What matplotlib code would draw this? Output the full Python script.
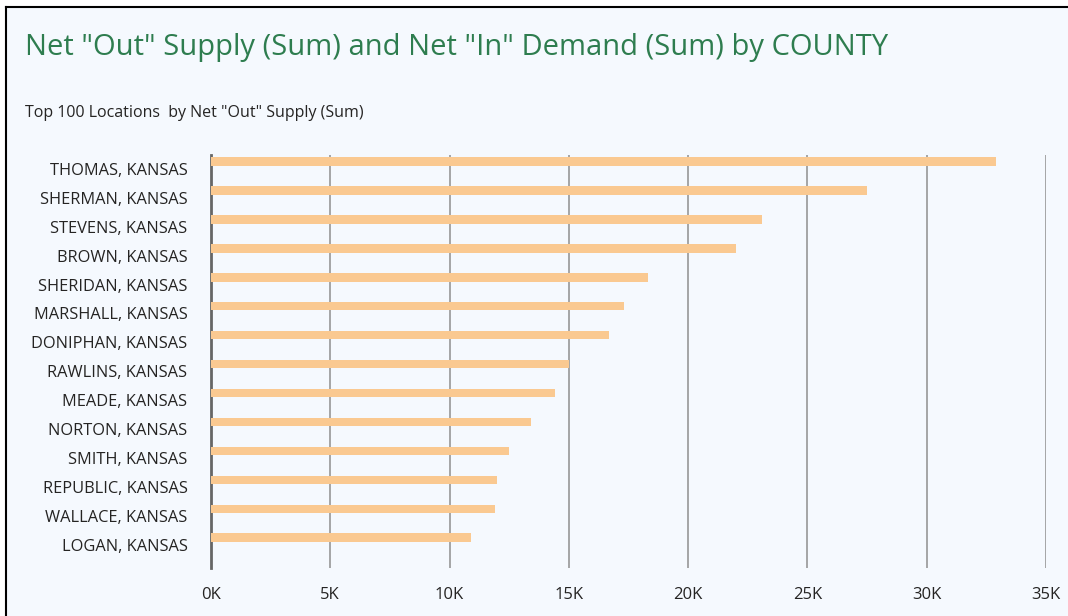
import matplotlib.pyplot as plt
from matplotlib.patches import Rectangle
from matplotlib.ticker import FuncFormatter

counties = ['THOMAS, KANSAS', 'SHERMAN, KANSAS', 'STEVENS, KANSAS', 'BROWN, KANSAS',
            'SHERIDAN, KANSAS', 'MARSHALL, KANSAS', 'DONIPHAN, KANSAS', 'RAWLINS, KANSAS',
            'MEADE, KANSAS', 'NORTON, KANSAS', 'SMITH, KANSAS', 'REPUBLIC, KANSAS',
            'WALLACE, KANSAS', 'LOGAN, KANSAS']
net_out_supply = [32900, 27500, 23100, 22000, 18300, 17300, 16700,
                  15000, 14400, 13400, 12500, 12000, 11900, 10900]
x_ticks = [0, 5000, 10000, 15000, 20000, 25000, 30000, 35000]

plt.rcParams['font.family'] = ['Open Sans', 'DejaVu Sans']
bg = '#f5f9fe'

fig = plt.figure(figsize=(10.68, 6.16), dpi=100)
fig.patch.set_facecolor('white')
W, H = 1068, 616
# panel background with black frame on the left and top
fig.add_artist(Rectangle((6 / W, 0), 1.0, 1 - 7 / H, transform=fig.transFigure,
                         facecolor=bg, edgecolor='none', zorder=-2))
fig.add_artist(plt.Line2D([6 / W, 6 / W], [0, 1 - 7 / H], transform=fig.transFigure,
                          color='black', lw=1.5))
fig.add_artist(plt.Line2D([6 / W, 1], [1 - 7 / H, 1 - 7 / H], transform=fig.transFigure,
                          color='black', lw=1.5))

fig.text(25 / W, 1 - 48 / H, 'Net "Out" Supply (Sum) and Net "In" Demand (Sum) by COUNTY',
         color='#2e7d4f', fontsize=21, va='center', ha='left')
fig.text(25 / W, 1 - 113 / H, 'Top 100 Locations  by Net "Out" Supply (Sum)',
         color='#252423', fontsize=11.5, va='center', ha='left')

ax = fig.add_axes([211 / W, 48 / H, (1046 - 211) / W, (568 - 155) / H])
ax.set_facecolor(bg)

pos = list(range(len(counties)))
ax.barh([p - 0.25 for p in pos], net_out_supply, height=0.29, color='#fac991', zorder=3)

ax.set_xlim(0, 35000)
ax.set_ylim(len(counties) - 1 + 0.8, -0.48)
ax.set_yticks(pos)
ax.set_yticklabels(counties, fontsize=11.8, color='#252423')
ax.set_xticks(x_ticks)
ax.xaxis.set_major_formatter(FuncFormatter(lambda v, _: f'{int(v / 1000)}K'))
ax.tick_params(axis='x', length=0, pad=14, labelsize=12, labelcolor='#252423')
ax.tick_params(axis='y', length=0, pad=17)
ax.grid(axis='x', color='#8f8f8f', lw=1.1, zorder=0)
for s in ['top', 'right', 'bottom']:
    ax.spines[s].set_visible(False)
ax.spines['left'].set_color('#666666')
ax.spines['left'].set_linewidth(2)

plt.savefig('out.png', dpi=100, facecolor=fig.get_facecolor())
